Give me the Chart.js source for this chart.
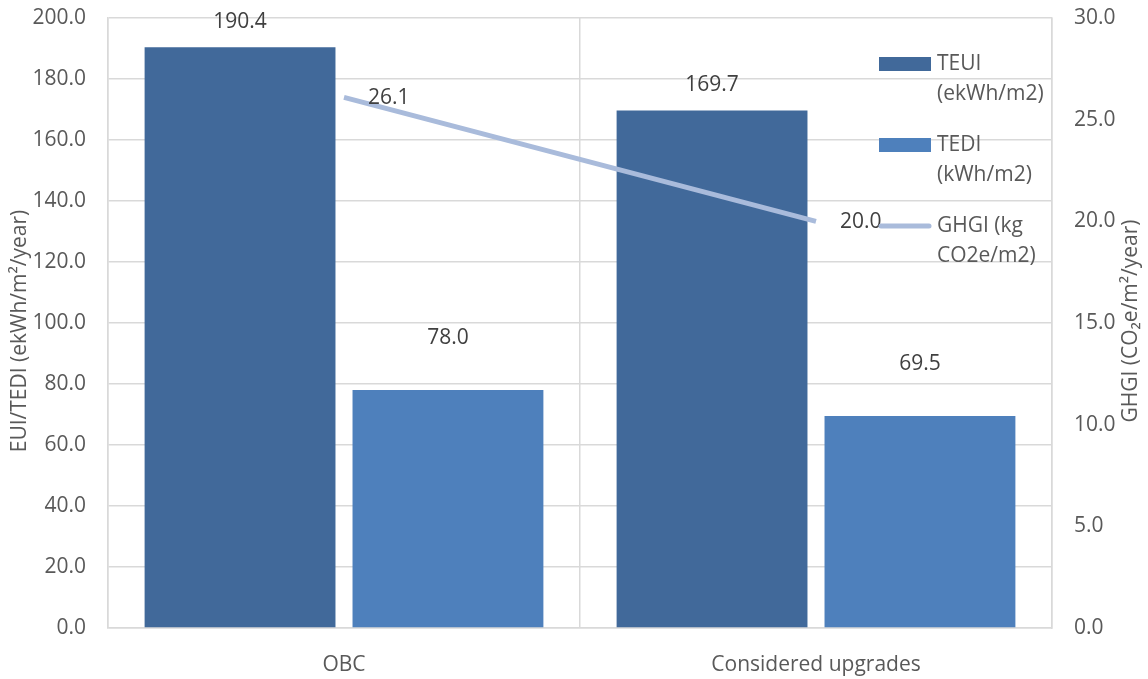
<!DOCTYPE html>
<html>
<head>
<meta charset="utf-8">
<script src="https://cdn.jsdelivr.net/npm/chart.js@4.4.1/dist/chart.umd.min.js"></script>
<style>
  html, body { margin: 0; padding: 0; background: #fff; }
  #wrap { width: 1148px; height: 679px; }
</style>
</head>
<body>
<div id="wrap"><canvas id="chart"></canvas></div>
<script>
const categories = ['OBC', 'Considered upgrades'];
const teui = [190.4, 169.7];
const tedi = [78.0, 69.5];
const ghgi = [26.1, 20.0];
const seriesNames = ['TEUI (ekWh/m2)', 'TEDI (kWh/m2)', 'GHGI (kg CO2e/m2)'];
const leftTitle = 'EUI/TEDI (ekWh/m²/year)';
const rightTitle = 'GHGI (CO₂e/m²/year)';

const FONT = '"Open Sans", "Liberation Sans", sans-serif';
const GRID = '#d9d9d9';
const TEXT = '#595959';

Chart.defaults.font.family = FONT;
Chart.defaults.font.size = 21;
Chart.defaults.color = TEXT;

// value labels, wrapped legend and upward-reading axis titles
const decorations = {
  id: 'decorations',
  afterDatasetsDraw(chart) {
    const ctx = chart.ctx;
    const area = chart.chartArea;
    ctx.save();
    ctx.font = '21px ' + FONT;
    ctx.fillStyle = '#404040';
    ctx.textBaseline = 'middle';

    chart.data.datasets.forEach((ds, i) => {
      const meta = chart.getDatasetMeta(i);
      meta.data.forEach((el, j) => {
        const txt = ds.data[j].toFixed(1);
        if (ds.type === 'line') {
          ctx.textAlign = 'left';
          ctx.fillText(txt, el.x + 24, el.y + 1);
        } else {
          ctx.textAlign = 'center';
          ctx.fillText(txt, el.x, el.y - ds.labelGap);
        }
      });
    });

    // legend
    ctx.fillStyle = TEXT;
    ctx.textAlign = 'left';
    const sx = area.right - 173, sw = 52, tx = sx + 58;
    let y = area.top + 46;
    chart.data.datasets.forEach((ds) => {
      if (ds.type === 'line') {
        ctx.strokeStyle = ds.borderColor;
        ctx.lineWidth = 5;
        ctx.lineCap = 'round';
        ctx.beginPath();
        ctx.moveTo(sx + 2, y);
        ctx.lineTo(sx + sw - 2, y);
        ctx.stroke();
      } else {
        ctx.fillStyle = ds.backgroundColor;
        ctx.fillRect(sx, y - 7, sw, 14);
      }
      ctx.fillStyle = TEXT;
      const words = ds.label.split(' ');
      const lines = [];
      let cur = '';
      words.forEach(w => {
        const t = cur ? cur + ' ' + w : w;
        if (cur && ctx.measureText(t).width > 118) { lines.push(cur); cur = w; } else cur = t;
      });
      lines.push(cur);
      lines.forEach((l, k) => ctx.fillText(l, tx, y + k * 30));
      y += 81;
    });

    // axis titles, both reading bottom to top
    ctx.textAlign = 'center';
    ctx.fillStyle = TEXT;
    [[20, area.top + 313, leftTitle], [1131, area.top + 303, rightTitle]].forEach(([x, cy, t]) => {
      ctx.save();
      ctx.translate(x, cy);
      ctx.rotate(-Math.PI / 2);
      ctx.fillText(t, 0, 0);
      ctx.restore();
    });
    ctx.restore();
  }
};

function noEdgePadding(s) { s.paddingTop = 0; s.paddingBottom = 0; s.paddingLeft = 0; s.paddingRight = 0; }

new Chart(document.getElementById('chart'), {
  data: {
    labels: categories,
    datasets: [
      { type: 'bar', label: seriesNames[0], data: teui, yAxisID: 'y', order: 1,
        backgroundColor: '#41699a', labelGap: 25,
        categoryPercentage: 0.881, barPercentage: 0.918 },
      { type: 'bar', label: seriesNames[1], data: tedi, yAxisID: 'y', order: 1,
        backgroundColor: '#4e80bc', labelGap: 52,
        categoryPercentage: 0.881, barPercentage: 0.918 },
      { type: 'line', label: seriesNames[2], data: ghgi, yAxisID: 'y1', order: 0,
        borderColor: '#a9bbdb', borderWidth: 5, pointRadius: 0, tension: 0 }
    ]
  },
  options: {
    responsive: true,
    maintainAspectRatio: false,
    animation: false,
    layout: { padding: { top: 18, left: 0, right: 0, bottom: 0 } },
    plugins: { legend: { display: false }, tooltip: { enabled: false } },
    scales: {
      x: {
        offset: true,
        grid: { offset: true, color: GRID, lineWidth: 1.5, drawTicks: false },
        border: { color: GRID, width: 1.5 },
        ticks: { padding: 24, color: TEXT },
        afterFit(s) { s.height = 51; noEdgePadding(s); }
      },
      y: {
        position: 'left', min: 0, max: 200,
        ticks: { stepSize: 20, padding: 22, color: TEXT, callback: v => v.toFixed(1) },
        grid: { color: GRID, lineWidth: 1.5, drawTicks: false },
        border: { color: GRID, width: 1.5 },
        afterFit(s) { s.width = 108; noEdgePadding(s); }
      },
      y1: {
        position: 'right', min: 0, max: 30,
        ticks: { stepSize: 5, padding: 22, color: TEXT, callback: v => v.toFixed(1) },
        grid: { display: false, drawTicks: false },
        border: { display: true, color: GRID, width: 1.5 },
        afterFit(s) { s.width = 96; noEdgePadding(s); }
      }
    }
  },
  plugins: [decorations]
});
</script>
</body>
</html>
